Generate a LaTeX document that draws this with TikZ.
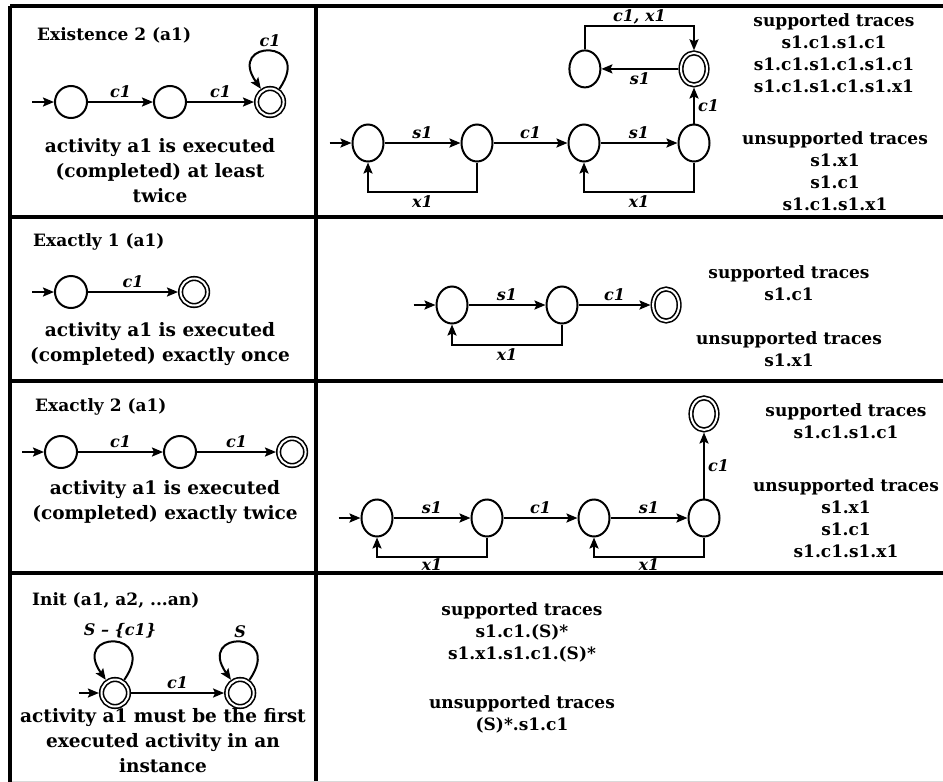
\documentclass[tikz,border=0pt]{standalone}
\usepackage{fontspec}
\setmainfont{DejaVu Serif}
\usepackage{tikz}
\usetikzlibrary{arrows.meta, positioning, shapes.geometric}
\newcommand{\celltext}{\bfseries\fontsize{18.5}{25}\selectfont}
\newcommand{\headtext}{\bfseries\fontsize{17}{22}\selectfont}
\newcommand{\edgetext}{\bfseries\itshape\fontsize{16}{16}\selectfont}
\tikzset{
  state/.style={circle, draw=black, line width=2pt, minimum size=32pt, inner sep=0pt},
  final/.style={state, double, double distance=2pt, line width=1.6pt, minimum size=27pt, outer sep=2.6pt},
  rstate/.style={ellipse, draw=black, line width=2pt, minimum width=31pt,
                 minimum height=37pt, inner sep=0pt},
  rfinal/.style={rstate, double, double distance=2pt, line width=1.6pt, minimum width=26pt,
                 minimum height=32pt, outer sep=2.6pt},
  trans/.style={-{Stealth[length=11pt, width=9pt, inset=2pt]}, line width=2pt},
  selfloop/.style={trans, out=55, in=125, looseness=8.5},
  edgelbl/.style={font=\edgetext, inner sep=3pt},
  title/.style={font=\headtext, anchor=west, inner sep=0pt},
  desc/.style={font=\celltext, align=center, inner sep=0pt},
  traces/.style={font=\headtext, align=center, inner sep=0pt},
  grid/.style={line width=3.5pt},
}

\begin{document}
\begin{tikzpicture}[x=1pt, y=-1pt]
  \useasboundingbox (0,0) rectangle (943,782);

  % table
  \draw[grid] (10,6) -- (943,6);
  \draw[grid] (10,6) -- (10,782);
  \draw[grid] (316,6) -- (316,782);
  \draw[grid] (10,217) -- (943,217);
  \draw[grid] (10,381) -- (943,381);
  \draw[grid] (10,573) -- (943,573);
  \draw[black!15, line width=1pt] (12,781) -- (943,781);

  % existence 2
  \node[title] (t1) at (37,35) {Existence 2 (a1)};
  \node[state] (e1) at (71,102) {};
  \node[state, right=65pt of e1] (e2) {};
  \node[final, right=67pt of e2] (e3) {};
  \coordinate[left=22pt of e1] (e0);
  \draw[trans] (e0) -- (e1);
  \draw[trans] (e1) -- node[edgelbl, above] {c1} (e2);
  \draw[trans] (e2) -- node[edgelbl, above] {c1} (e3);
  \draw[selfloop] (e3) to node[edgelbl, above] {c1} (e3);
  \node[desc] (d1) at (160,171) {activity a1 is executed\\(completed) at least\\twice};

  \node[rstate] (p1) at (368,143) {};
  \node[rstate, right=76pt of p1] (p2) {};
  \node[rstate, right=74pt of p2] (p3) {};
  \node[rstate, right=77pt of p3] (p4) {};
  \node[rfinal, above=36pt of p4] (p5) {};
  \node[rstate, left=77pt of p5] (p6) {};
  \coordinate[left=22pt of p1] (p0);
  \draw[trans] (p0) -- (p1);
  \draw[trans] (p1) -- node[edgelbl, above] {s1} (p2);
  \draw[trans] (p2) -- node[edgelbl, above] {c1} (p3);
  \draw[trans] (p3) -- node[edgelbl, above] {s1} (p4);
  \draw[trans] (p2.south) -- ++(0,29) -| node[edgelbl, pos=0.25, below] {x1} (p1.south);
  \draw[trans] (p4.south) -- ++(0,29) -| node[edgelbl, pos=0.25, below] {x1} (p3.south);
  \draw[trans] (p4) -- node[edgelbl, right] {c1} (p5);
  \draw[trans] (p5) -- node[edgelbl, below] {s1} (p6);
  \draw[trans] (p6.north) -- ++(0,-23) -| node[edgelbl, pos=0.25, above, inner sep=1pt] {c1, x1} (p5.north);
  \node[traces] (s1) at (834,53) {supported traces\\s1.c1.s1.c1\\s1.c1.s1.c1.s1.c1\\s1.c1.s1.c1.s1.x1};
  \node[traces] (u1) at (835,171) {unsupported traces\\s1.x1\\s1.c1\\s1.c1.s1.x1};

  % exactly 1
  \node[title] (t2) at (33,242) {Exactly 1 (a1)};
  \node[state] (f1) at (71,292) {};
  \node[final, right=90pt of f1] (f2) {};
  \coordinate[left=22pt of f1] (f0);
  \draw[trans] (f0) -- (f1);
  \draw[trans] (f1) -- node[edgelbl, above] {c1} (f2);
  \node[desc] (d2) at (160,344) {activity a1 is executed\\(completed) exactly once};

  \node[rstate] (q1) at (452,305) {};
  \node[rstate, right=77pt of q1] (q2) {};
  \node[rfinal, right=72pt of q2] (q3) {};
  \coordinate[left=22pt of q1] (q0);
  \draw[trans] (q0) -- (q1);
  \draw[trans] (q1) -- node[edgelbl, above] {s1} (q2);
  \draw[trans] (q2) -- node[edgelbl, above] {c1} (q3);
  \draw[trans] (q2.south) -- ++(0,20) -| node[edgelbl, pos=0.25, below] {x1} (q1.south);
  \node[traces] (s2) at (789,283) {supported traces\\s1.c1};
  \node[traces] (u2) at (789,349) {unsupported traces\\s1.x1};

  % exactly 2
  \node[title] (t3) at (35,407) {Exactly 2 (a1)};
  \node[state] (g1) at (61,452) {};
  \node[state, right=85pt of g1] (g2) {};
  \node[final, right=79pt of g2] (g3) {};
  \coordinate[left=22pt of g1] (g0);
  \draw[trans] (g0) -- (g1);
  \draw[trans] (g1) -- node[edgelbl, above] {c1} (g2);
  \draw[trans] (g2) -- node[edgelbl, above] {c1} (g3);
  \node[desc] (d3) at (165,502) {activity a1 is executed\\(completed) exactly twice};

  \node[rstate] (r1) at (377,518) {};
  \node[rstate, right=77pt of r1] (r2) {};
  \node[rstate, right=74pt of r2] (r3) {};
  \node[rstate, right=77pt of r3] (r4) {};
  \node[rfinal, above=66pt of r4] (r5) {};
  \coordinate[left=22pt of r1] (r0);
  \draw[trans] (r0) -- (r1);
  \draw[trans] (r1) -- node[edgelbl, above] {s1} (r2);
  \draw[trans] (r2) -- node[edgelbl, above] {c1} (r3);
  \draw[trans] (r3) -- node[edgelbl, above] {s1} (r4);
  \draw[trans] (r2.south) -- ++(0,19) -| node[edgelbl, pos=0.25, below, inner sep=1.5pt] {x1} (r1.south);
  \draw[trans] (r4.south) -- ++(0,19) -| node[edgelbl, pos=0.25, below, inner sep=1.5pt] {x1} (r3.south);
  \draw[trans] (r4) -- node[edgelbl, right] {c1} (r5);
  \node[traces] (s3) at (846,421) {supported traces\\s1.c1.s1.c1};
  \node[traces] (u3) at (846,518) {unsupported traces\\s1.x1\\s1.c1\\s1.c1.s1.x1};

  % init
  \node[title] (t4) at (32,600) {Init (a1, a2, ...an)};
  \node[final] (h1) at (115,693) {};
  \node[final, right=93pt of h1] (h2) {};
  \coordinate[left=20pt of h1] (h0);
  \draw[trans] (h0) -- (h1);
  \draw[trans] (h1) -- node[edgelbl, above] {c1} (h2);
  \draw[selfloop] (h1) to node[edgelbl, above, xshift=5pt] {S -- \{c1\}} (h1);
  \draw[selfloop] (h2) to node[edgelbl, above] {S} (h2);
  \node[desc] (d4) at (163,741) {activity a1 must be the first\\executed activity in an\\instance};

  \node[traces] (s4) at (522,632) {supported traces\\s1.c1.(S)*\\s1.x1.s1.c1.(S)*};
  \node[traces] (u4) at (522,714) {unsupported traces\\(S)*.s1.c1};
\end{tikzpicture}
\end{document}
